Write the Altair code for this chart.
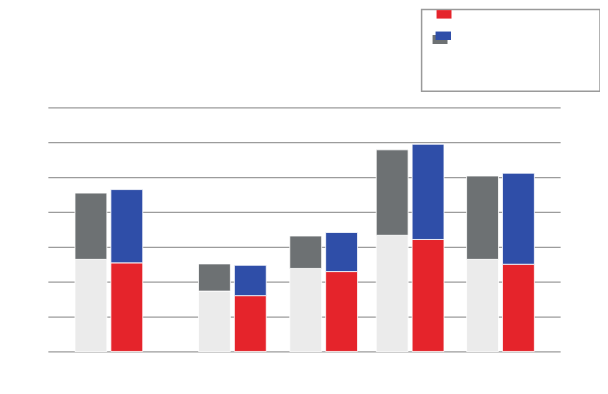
import altair as alt
import pandas as pd

# Data (units: grid step = 10)
positions = [0.0, 4.1, 7.13, 10.0, 13.0]          # x position of each pair
light_grey = [26.4, 17.3, 23.8, 33.3, 26.4]     # lower part, first bar of each pair
grey_total = [45.4, 25.1, 33.1, 57.8, 50.3]     # top of first bar
red = [25.4, 16.0, 22.9, 32.1, 25.0]            # lower part, second bar
blue_total = [46.4, 24.7, 34.1, 59.4, 51.1]     # top of second bar
grid_values = [0, 10, 20, 30, 40, 50, 60, 70]

df = pd.DataFrame({
    "pos": positions,
    "lg": light_grey,
    "gt": grey_total,
    "red": red,
    "bt": blue_total,
})
df["zero"] = 0

xscale = alt.Scale(domain=[-2.025, 14.98], nice=False, zero=False, padding=0)
yscale = alt.Scale(domain=[0, 98.28], nice=False, zero=True, padding=0)

base = alt.Chart(df)
X = alt.X("pos:Q", scale=xscale, axis=None)

grid = base.mark_rule(opacity=0).encode(
    x=X,
    y=alt.Y("zero:Q", scale=yscale,
            axis=alt.Axis(values=grid_values, labels=False, ticks=False,
                          domain=False, grid=True, gridColor="#9c9c9c",
                          gridWidth=1.3, title=None)),
)

bar_kw = dict(width=32, stroke="white", strokeWidth=0.8)

lg_bar = base.mark_bar(color="#ebebeb", xOffset=-18, **bar_kw).encode(
    x=X, y=alt.Y("zero:Q", scale=yscale), y2="lg:Q")
dg_bar = base.mark_bar(color="#6d7173", xOffset=-18, **bar_kw).encode(
    x=X, y=alt.Y("lg:Q", scale=yscale), y2="gt:Q")
red_bar = base.mark_bar(color="#e5242b", xOffset=18, **bar_kw).encode(
    x=X, y=alt.Y("zero:Q", scale=yscale), y2="red:Q")
blue_bar = base.mark_bar(color="#2f4ea8", xOffset=18, **bar_kw).encode(
    x=X, y=alt.Y("red:Q", scale=yscale), y2="bt:Q")

# Legend box (decoration, no labels in the reference)
one = alt.Chart(alt.Data(values=[{}]))
legend_box = one.mark_rect(fill="white", stroke="#9a9a9a", strokeWidth=1.5).encode(
    x=alt.value(375), x2=alt.value(554), y=alt.value(1), y2=alt.value(83))
sw_red = one.mark_rect(color="#e5242b").encode(
    x=alt.value(390), x2=alt.value(405), y=alt.value(1.5), y2=alt.value(10))
sw_grey = one.mark_rect(color="#6d7173").encode(
    x=alt.value(386), x2=alt.value(401), y=alt.value(26.5), y2=alt.value(35.5))
sw_blue = one.mark_rect(color="#2f4ea8").encode(
    x=alt.value(389), x2=alt.value(404.5), y=alt.value(23), y2=alt.value(31.5))

chart = alt.layer(
    grid, lg_bar, dg_bar, red_bar, blue_bar, legend_box, sw_grey, sw_blue, sw_red
).properties(
    width=514, height=344,
    padding={"left": 40, "top": 0, "right": 40, "bottom": 20},
    autosize="none",
    background="white",
).configure_view(strokeWidth=0, stroke=None)

chart.save("out.html", embed_options={"renderer": "svg", "actions": False})
